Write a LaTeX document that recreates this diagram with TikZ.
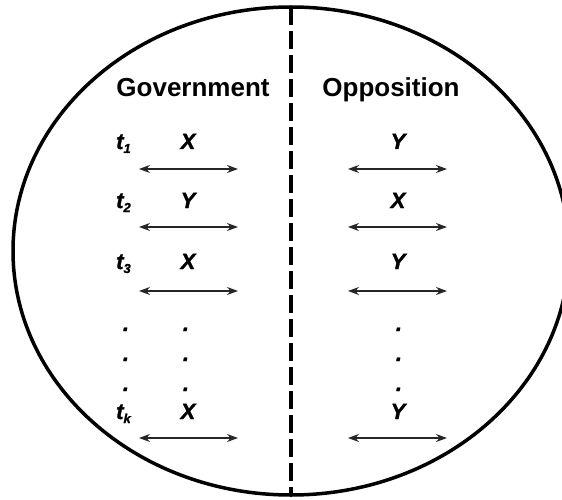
\documentclass[tikz,border=0pt]{standalone}
\usepackage{fontspec}
\setmainfont{Liberation Sans}
\newfontfamily\negrita{Liberation Sans Bold Italic}[FakeBold=1.5]
\usetikzlibrary{arrows.meta}
\newcommand{\indice}[1]{\raisebox{-4pt}{\fontsize{13}{15}\selectfont #1}}

\begin{document}
\begin{tikzpicture}[
        x=1pt, y=-1pt,
        titulo/.style={font=\fontsize{26}{30}\selectfont\bfseries, anchor=base, inner sep=0pt},
        letra/.style={font=\negrita\bfseries\fontsize{22}{26}\selectfont, anchor=base, inner sep=0pt},
        tiempo/.style={letra, anchor=base west},
        flecha/.style={{Stealth[length=11pt,width=8pt]}-{Stealth[length=11pt,width=8pt]}, line width=1.2pt, black!85}
    ]
        \useasboundingbox (0,0) rectangle (562,500);

        % Ovalo exterior
        \draw[line width=3.5pt] (291,251) ellipse (278pt and 244pt);

        % Linea divisoria
        \coordinate (arriba) at (291,7);
        \coordinate (abajo) at (291,495);
        \draw[line width=3.5pt, dash pattern=on 18pt off 6pt] (arriba) -- (abajo);

        % Titulos
        \node[titulo] (gob) at (193,97) {Government};
        \node[titulo] (opo) at (391,97) {Opposition};

        % Instantes
        \node[tiempo] (t1) at (116,149) {t\indice{1}};
        \node[tiempo] (t2) at (116,208) {t\indice{2}};
        \node[tiempo] (t3) at (116,269) {t\indice{3}};
        \node[tiempo] (tk) at (116,419) {t\indice{k}};

        % Columna gobierno
        \node[letra] (g1) at (188,149) {X};
        \node[letra] (g2) at (188,208) {Y};
        \node[letra] (g3) at (188,269) {X};
        \node[letra] (gk) at (188,419) {X};

        % Columna oposicion
        \node[letra] (o1) at (398,149) {Y};
        \node[letra] (o2) at (398,208) {X};
        \node[letra] (o3) at (398,269) {Y};
        \node[letra] (ok) at (398,419) {Y};

        % Puntos suspensivos
        \node[letra] (pt1) at (126,331) {.};
        \node[letra] (pt2) at (126,361) {.};
        \node[letra] (pt3) at (126,391) {.};
        \node[letra] (pg1) at (186,331) {.};
        \node[letra] (pg2) at (186,361) {.};
        \node[letra] (pg3) at (186,391) {.};
        \node[letra] (po1) at (399,331) {.};
        \node[letra] (po2) at (399,361) {.};
        \node[letra] (po3) at (399,391) {.};

        % Flechas
        \coordinate (gi1) at (139,169); \coordinate (gd1) at (238,169);
        \coordinate (gi2) at (139,227); \coordinate (gd2) at (238,227);
        \coordinate (gi3) at (139,291); \coordinate (gd3) at (238,291);
        \coordinate (gik) at (139,438); \coordinate (gdk) at (238,438);
        \coordinate (oi1) at (348,169); \coordinate (od1) at (447,169);
        \coordinate (oi2) at (348,227); \coordinate (od2) at (447,227);
        \coordinate (oi3) at (348,291); \coordinate (od3) at (447,291);
        \coordinate (oik) at (348,438); \coordinate (odk) at (447,438);

        \draw[flecha] (gi1) -- (gd1);
        \draw[flecha] (gi2) -- (gd2);
        \draw[flecha] (gi3) -- (gd3);
        \draw[flecha] (gik) -- (gdk);
        \draw[flecha] (oi1) -- (od1);
        \draw[flecha] (oi2) -- (od2);
        \draw[flecha] (oi3) -- (od3);
        \draw[flecha] (oik) -- (odk);
    \end{tikzpicture}
\end{document}
